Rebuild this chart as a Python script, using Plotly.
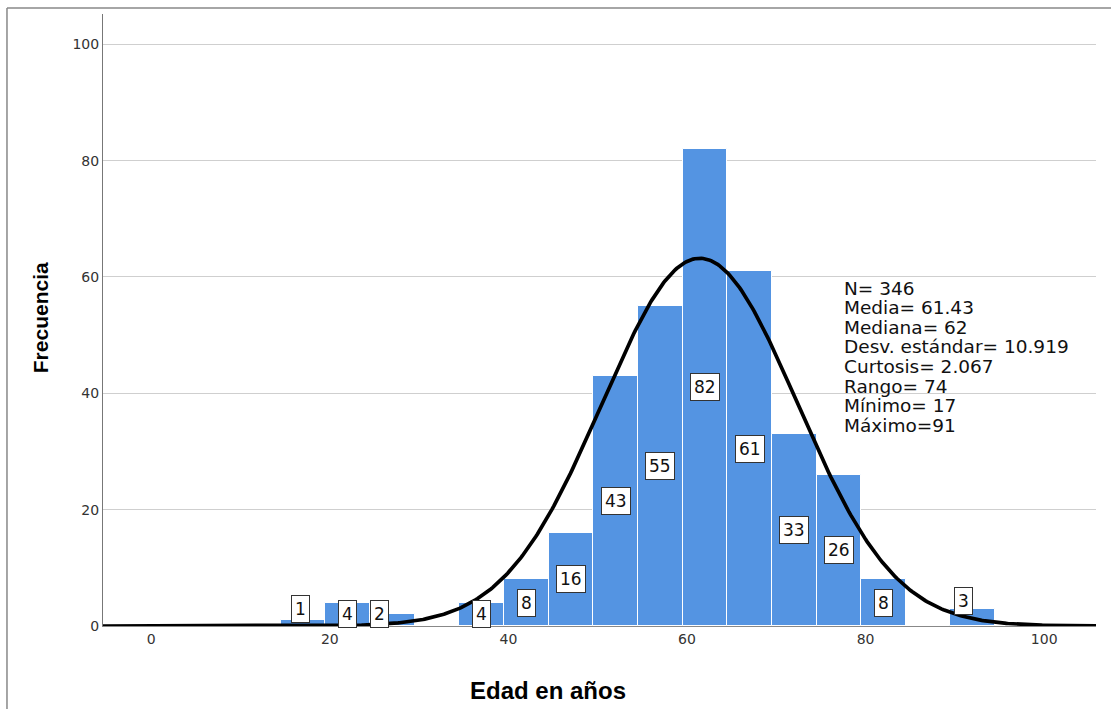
import numpy as np
import plotly.graph_objects as go

# ---- data ----
bin_centers = [17, 22, 27, 32, 37, 42, 47, 52, 57, 62, 67, 72, 77, 82, 87, 92]
frequencies = [1, 4, 2, 0, 4, 8, 16, 43, 55, 82, 61, 33, 26, 8, 0, 3]
bin_width = 5
n_total = 346
mean_age = 61.43
sd_age = 10.919
stats_lines = [
    "N= 346",
    "Media= 61.43",
    "Mediana= 62",
    "Desv. estándar= 10.919",
    "Curtosis= 2.067",
    "Rango= 74",
    "Mínimo= 17",
    "Máximo=91",
]
x_ticks = [0, 20, 40, 60, 80, 100]
y_ticks = [0, 20, 40, 60, 80, 100]

# label placement tweaks (small bars)
label_y_override = {17: 2.9, 27: 2.0, 92: 4.3}
label_x_shift = {17: -0.3, 27: -1.4, 92: -1.0}

BAR_COLOR = "#5494E2"
FONT = "DejaVu Sans"

fig = go.Figure()
fig.add_trace(go.Bar(
    x=bin_centers, y=frequencies, width=[bin_width] * len(bin_centers),
    marker=dict(color=BAR_COLOR, line=dict(color="white", width=1)),
    hoverinfo="x+y", showlegend=False,
))

xs = np.linspace(-5.4, 105.8, 600)
curve = n_total * bin_width / (sd_age * np.sqrt(2 * np.pi)) * np.exp(-0.5 * ((xs - mean_age) / sd_age) ** 2)
fig.add_trace(go.Scatter(
    x=xs, y=curve, mode="lines", line=dict(color="black", width=3.7),
    cliponaxis=False, showlegend=False, hoverinfo="skip",
))

annotations = []
for c, v in zip(bin_centers, frequencies):
    if v <= 0:
        continue
    yy = label_y_override.get(c, max(v / 2, 2))
    xx = c + label_x_shift.get(c, 0)
    annotations.append(dict(
        x=xx, y=yy, xref="x", yref="y", text=str(v), showarrow=False,
        font=dict(family=FONT, size=17, color="#111"),
        bgcolor="white", bordercolor="#333", borderwidth=1, borderpad=3,
    ))

# statistics text block
line_step = 3.37
top_y = 58.1
for i, t in enumerate(stats_lines):
    annotations.append(dict(
        x=77.3, y=top_y - i * line_step, xref="x", yref="y", text=t,
        showarrow=False, xanchor="left", yanchor="middle",
        font=dict(family=FONT, size=18.5, color="#111"),
    ))

# axis titles
annotations.append(dict(
    x=0.448, y=-0.1062, xref="paper", yref="paper", text="<b>Edad en años</b>",
    showarrow=False, xanchor="center", yanchor="middle",
    font=dict(family="Liberation Sans", size=24, color="black"),
))
annotations.append(dict(
    x=-0.0634, y=0.503, xref="paper", yref="paper", text="<b>Frecuencia</b>",
    showarrow=False, xanchor="center", yanchor="middle", textangle=-90,
    font=dict(family="Liberation Sans", size=21, color="black"),
))

fig.update_layout(
    width=1111, height=709,
    margin=dict(l=103, r=15, t=14, b=83),
    paper_bgcolor="white", plot_bgcolor="white",
    bargap=0,
    annotations=annotations,
    xaxis=dict(
        range=[-5.4, 105.8], tickvals=x_ticks, ticks="", showgrid=False,
        zeroline=False, showline=True, linecolor="#888", linewidth=1,
        tickfont=dict(family=FONT, size=14, color="#333"),
    ),
    yaxis=dict(
        range=[0, 105.2], tickvals=y_ticks, ticks="", showgrid=True,
        gridcolor="#cfcfcf", gridwidth=1, zeroline=False,
        showline=True, linecolor="#777", linewidth=1,
        tickfont=dict(family=FONT, size=14, color="#333"),
    ),
    shapes=[
        dict(type="line", xref="paper", yref="paper", x0=-0.0967, x1=1.02, y0=1.0098, y1=1.0098,
             line=dict(color="#888", width=1.5)),
        dict(type="line", xref="paper", yref="paper", x0=-0.0967, x1=-0.0967, y0=1.0098, y1=-0.14,
             line=dict(color="#888", width=1.5)),
    ],
)

fig.write_html("out.html", config={"displayModeBar": False},
               post_script="document.body.style.margin='0px';")
